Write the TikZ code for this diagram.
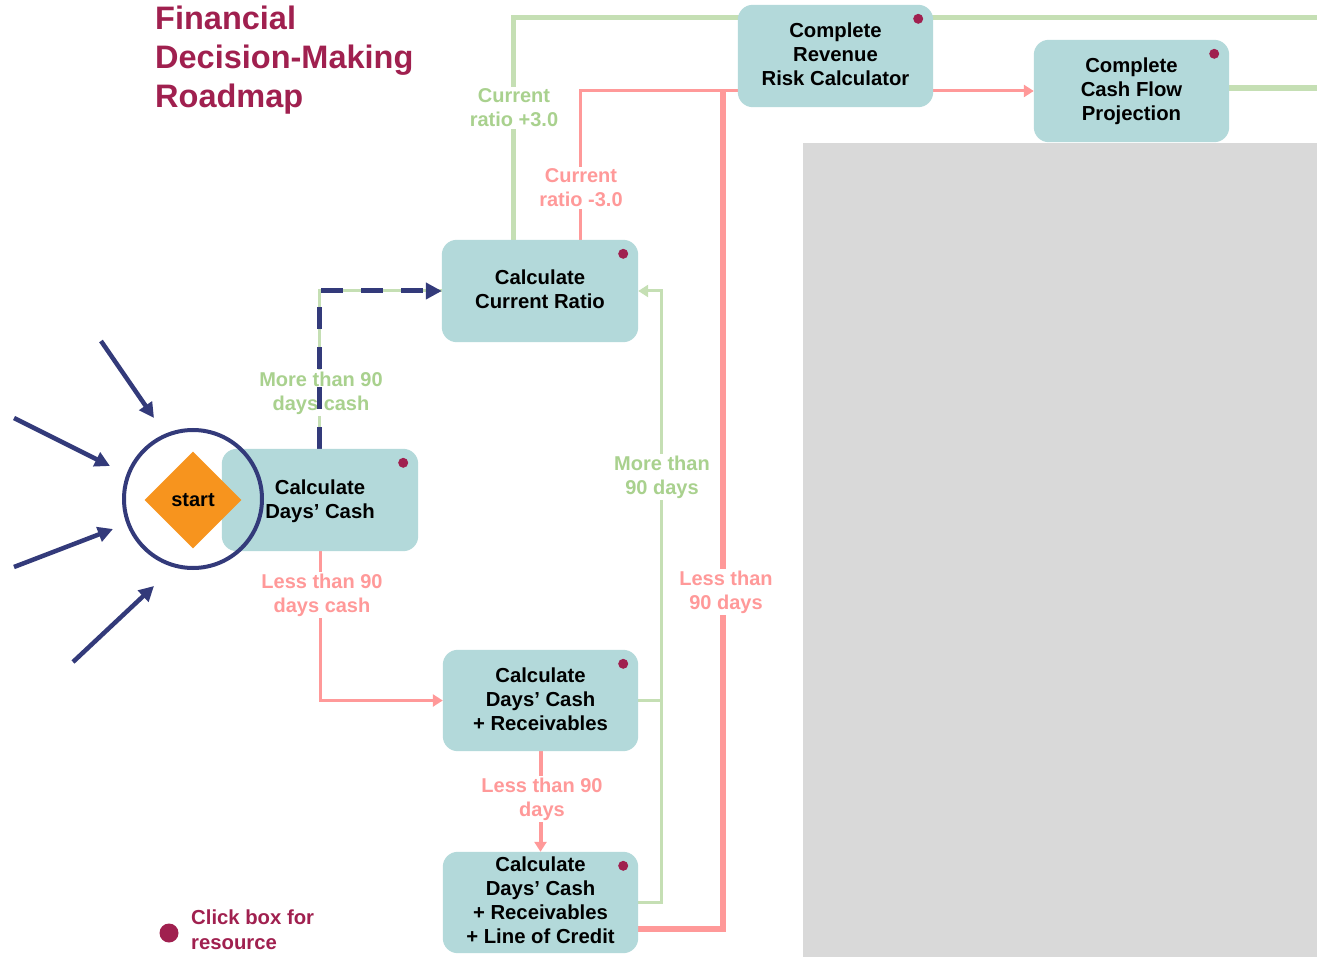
\documentclass[tikz,border=0pt]{standalone}
\usepackage{fontspec}
\setmainfont{Liberation Sans}
\usetikzlibrary{arrows.meta,shapes.geometric}
\definecolor{boxteal}{HTML}{B3D9DA}
\definecolor{crimson}{HTML}{A0204F}
\definecolor{lgreen}{HTML}{C5DFB4}
\definecolor{tgreen}{HTML}{A9D18E}
\definecolor{lred}{HTML}{FF9999}
\definecolor{navy}{HTML}{333A7A}
\definecolor{dorange}{HTML}{F7941E}
\definecolor{panel}{HTML}{D9D9D9}
\begin{document}
\begin{tikzpicture}[x=1pt,y=-1pt,
  boxtext/.style={inner sep=0, align=center, font=\fontsize{20.3}{24}\selectfont\bfseries},
  lab/.style={fill=white, inner sep=1.5, align=center, font=\fontsize{20}{24}\selectfont\bfseries},
  glab/.style={lab, text=tgreen},
  rlab/.style={lab, text=lred},
  gline/.style={draw=lgreen, line width=#1},
  rline/.style={draw=lred, line width=#1},
  rtip/.style={-{Triangle[length=10,width=12]}},
  ntip/.style={-{Triangle[length=16,width=16]}},
  navyarrow/.style={draw=navy, line width=4.5, -{Triangle[length=15,width=15]}},
  rdot/.style={fill=crimson},
  boxfill/.style={fill=boxteal, rounded corners=15}
]
\useasboundingbox (0,0) rectangle (1317,957);

% grey panel on the right
\fill[panel] (803,143) rectangle (1317,957);

% title
\node[anchor=west, align=left, inner sep=0, text=crimson,
      font=\fontsize{32.5}{39}\selectfont\bfseries] (title) at (155,60)
  {Financial\\Decision-Making\\Roadmap};

% box frames (placed first so the connectors can refer to them)
\path (320,500)    node[minimum width=196, minimum height=102] (dc) {};
\path (540,291)    node[minimum width=196, minimum height=102] (cr) {};
\path (540.5,700.5) node[minimum width=195, minimum height=101] (dcr) {};
\path (540.5,902.5) node[minimum width=195, minimum height=101] (loc) {};
\path (835.5,56)   node[minimum width=195, minimum height=102] (rrc) {};
\path (1131.5,91)  node[minimum width=195, minimum height=102] (cfp) {};

\coordinate (gtop) at (1317,18);
\coordinate (gright) at (1317,88);
\coordinate (rjoin) at (723,92);

% connectors
\draw[gline=5] ([xshift=-27]cr.north) |- (gtop);
\draw[gline=6] ([yshift=3]cfp.east) -- (gright);
\draw[rline=6] ([yshift=-26]loc.east) -| (rjoin);
\draw[rline=3, rtip] ([xshift=40]cr.north) |- (cfp.west);
\draw[gline=3, rtip] (loc.east) -- ++(23,0) |- (cr.east);
\draw[gline=3] (dcr.east) -- ++(23,0);
\draw[rline=3, rtip] (dc.south) |- (dcr.west);
\draw[rline=4, rtip] (dcr.south) -- (loc.north);
\draw[gline=3] ([xshift=-1]dc.north) |- (cr.west);

% connector labels
\node[glab] (l1) at (514,108) {Current\\ratio +3.0};
\node[rlab] (l2) at (581,188) {Current\\ratio -3.0};
\node[glab] (l3) at (321,393) {More than 90\\days cash};
\node[rlab] (l4) at (322,595) {Less than 90\\days cash};
\node[glab] (l5) at (662,477) {More than\\90 days};
\node[rlab] (l6) at (726,592) {Less than\\90 days};
\node[rlab] (l7) at (542,799) {Less than 90\\days};

% dashed route to the current ratio
\draw[navy, line width=5, dash pattern=on 22 off 18, ntip] ([xshift=-1]dc.north) |- (cr.west);

% step boxes
\foreach \b in {dc,cr,dcr,loc,rrc,cfp}
  \fill[boxfill] (\b.south west) rectangle (\b.north east);

\node[boxtext] (tdc)  at ([yshift=-1]dc.center)  {Calculate\\Days’ Cash};
\node[boxtext] (tcr)  at ([yshift=2]cr.center)   {Calculate\\Current Ratio};
\node[boxtext] (tdcr) at ([yshift=1.5]dcr.center) {Calculate\\Days’ Cash\\+ Receivables};
\node[boxtext] (tloc) at ([yshift=2.5]loc.center) {Calculate\\Days’ Cash\\+ Receivables\\+ Line of Credit};
\node[boxtext] (trrc) at ([yshift=2]rrc.center)  {Complete\\Revenue\\Risk Calculator};
\node[boxtext] (tcfp) at (cfp.center)            {Complete\\Cash Flow\\Projection};

% resource dots
\foreach \b in {dc,cr,dcr,loc,rrc,cfp}
  \fill[rdot] ([xshift=-15,yshift=-14]\b.north east) circle (5);

% start marker
\node[diamond, fill=dorange, minimum width=97, minimum height=97, inner sep=0,
      font=\fontsize{20}{24}\selectfont\bfseries] (start) at (193,500) {start};
\node[circle, draw=navy, line width=4, minimum size=138, inner sep=0] (ring) at (193,499) {};

% incoming arrows
\coordinate (a1s) at (101,341); \coordinate (a1e) at (154,418);
\coordinate (a2s) at (14,418);  \coordinate (a2e) at (110,466);
\coordinate (a3s) at (14,567);  \coordinate (a3e) at (113,529);
\coordinate (a4s) at (73,662);  \coordinate (a4e) at (154,586);
\draw[navyarrow] (a1s) -- (a1e);
\draw[navyarrow] (a2s) -- (a2e);
\draw[navyarrow] (a3s) -- (a3e);
\draw[navyarrow] (a4s) -- (a4e);

% legend
\fill[rdot] (169,933) circle (9.5);
\node[anchor=west, align=left, inner sep=0, text=crimson,
      font=\fontsize{20.3}{25}\selectfont\bfseries] (legend) at (191,930)
  {Click box for\\resource};
\end{tikzpicture}
\end{document}
